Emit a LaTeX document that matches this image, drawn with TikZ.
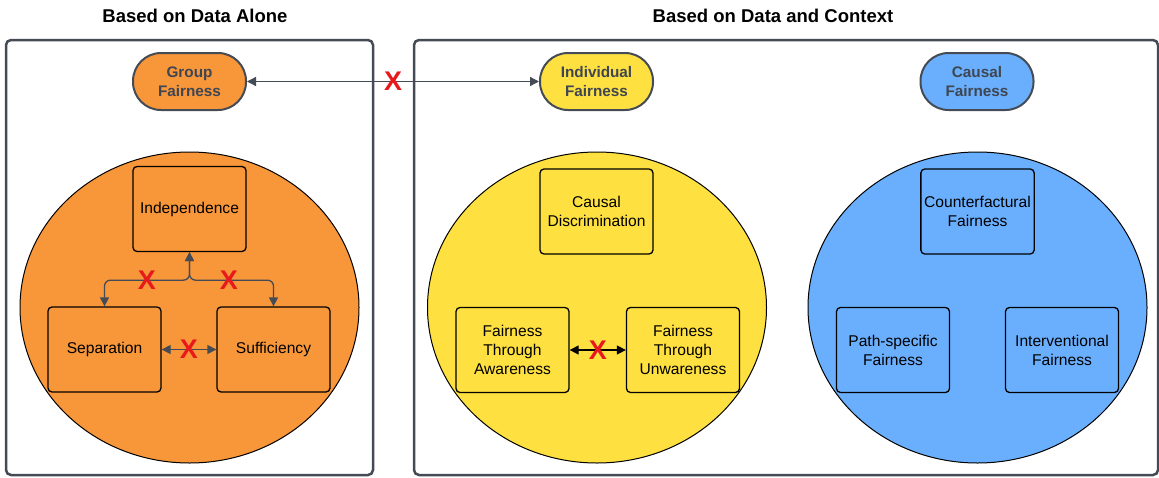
\documentclass[tikz,border=0pt]{standalone}
\usepackage{fontspec}
\setmainfont{Liberation Sans}
\usetikzlibrary{arrows.meta,shapes.geometric}
\definecolor{frameGray}{HTML}{454B55}
\definecolor{textGray}{HTML}{3F4652}
\definecolor{grpOrange}{HTML}{F8963A}
\definecolor{indYellow}{HTML}{FEE040}
\definecolor{csBlue}{HTML}{6AAFFD}
\definecolor{xRed}{HTML}{E8191C}
\begin{document}
\begin{tikzpicture}[x=1pt,y=-1pt,
    frame/.style={line width=2.5pt, draw=frameGray, rounded corners=5pt},
    title/.style={font=\fontsize{18.5}{20}\selectfont\bfseries},
    pill/.style={draw=frameGray, line width=2pt, rounded corners=28pt, minimum width=113, minimum height=57,
                 align=center, text=textGray, font=\fontsize{15.3}{19}\selectfont\bfseries},
    blob/.style={ellipse, draw=black, line width=1pt, inner sep=0pt, minimum width=339, minimum height=311},
    metric/.style={draw=black, line width=1.3pt, rounded corners=4pt, minimum width=113, minimum height=85,
                   align=center, font=\fontsize{15.6}{19}\selectfont},
    garrow/.style={draw=frameGray, line width=1.3pt, {Triangle[length=9pt,width=9pt]}-{Triangle[length=9pt,width=9pt]}},
    karrow/.style={draw=black, line width=1.3pt, {Triangle[length=9pt,width=9pt]}-{Triangle[length=9pt,width=9pt]}},
    xmark/.style={text=xRed, font=\fontsize{27}{27}\selectfont\bfseries, inner sep=0pt}]
    \useasboundingbox (0,0) rectangle (1159,477);
    % two panels
    \draw[frame] (6,40) rectangle (373,475);
    \draw[frame] (414,40) rectangle (1158,475);
    \node[title] (tleft) at (195,16) {Based on Data Alone};
    \node[title] (tright) at (773,16) {Based on Data and Context};
    % top level notions
    \node[pill, fill=grpOrange] (grp) at (189.5,81.5) {Group\\Fairness};
    \node[pill, fill=indYellow] (ind) at (596.5,81.5) {Individual\\Fairness};
    \node[pill, fill=csBlue] (cs) at (977,81.5) {Causal\\Fairness};
    \draw[garrow] (grp) -- (ind) node[midway, xmark] (x0) {X};
    % group fairness
    \node[blob, fill=grpOrange] (gblob) at (189.5,307.5) {};
    \node[metric] (indep) at (189.5,209) {Independence};
    \node[metric] (sep) at (104.5,349.5) {Separation};
    \node[metric] (suf) at (273.5,349.5) {Sufficiency};
    \draw[garrow, rounded corners=6pt] (indep.south) -- ++(0,28) -| (sep.north);
    \draw[garrow, rounded corners=6pt] (indep.south) -- ++(0,28) -| (suf.north);
    \node[xmark] (x1) at (147,280) {X};
    \node[xmark] (x2) at (229,280) {X};
    \draw[garrow] (sep) -- (suf) node[midway, xmark] (x3) {X};
    % individual fairness
    \node[blob, fill=indYellow] (iblob) at (597,307.5) {};
    \node[metric] (cdisc) at (596.5,211.5) {Causal\\Discrimination};
    \node[metric] (fta) at (512.5,350) {Fairness\\Through\\Awareness};
    \node[metric] (ftu) at (683,350) {Fairness\\Through\\Unwareness};
    \draw[karrow] (fta) -- (ftu) node[midway, xmark] (x4) {X};
    % causal fairness
    \node[blob, fill=csBlue] (cblob) at (977.5,307.5) {};
    \node[metric] (cf) at (977.5,211.5) {Counterfactural\\Fairness};
    \node[metric] (psf) at (893,350) {Path-specific\\Fairness};
    \node[metric] (ivf) at (1062,350) {Interventional\\Fairness};
\end{tikzpicture}
\end{document}
